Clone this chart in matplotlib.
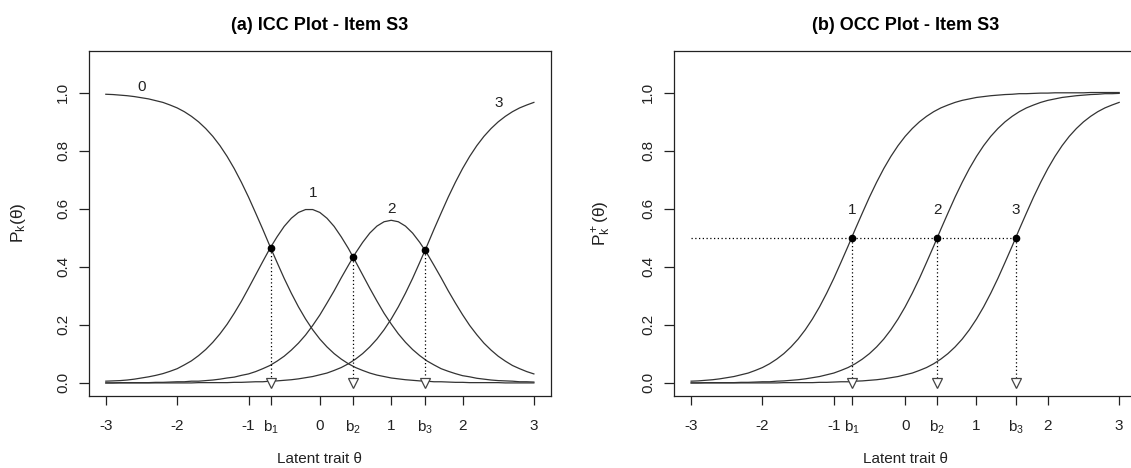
import matplotlib
matplotlib.use("Agg")
import matplotlib.pyplot as plt
import numpy as np

plt.rcParams['font.family'] = ['Liberation Sans', 'DejaVu Sans']
plt.rcParams['mathtext.fontset'] = 'custom'
plt.rcParams['mathtext.rm'] = 'Liberation Sans'
plt.rcParams['mathtext.it'] = 'Liberation Sans'
plt.rcParams['mathtext.default'] = 'regular'

# theta grid and cumulative (OCC) probabilities
theta = [-3.0, -2.9, -2.8, -2.7, -2.6, -2.5, -2.4, -2.3, -2.2, -2.1,
         -2.0, -1.9, -1.8, -1.7, -1.6, -1.5, -1.4, -1.3, -1.2, -1.1,
         -1.0, -0.9, -0.8, -0.7, -0.6, -0.5, -0.4, -0.3, -0.2, -0.1,
         0.0, 0.1, 0.2, 0.3, 0.4, 0.5, 0.6, 0.7, 0.8, 0.9,
         1.0, 1.1, 1.2, 1.3, 1.4, 1.5, 1.6, 1.7, 1.8, 1.9,
         2.0, 2.1, 2.2, 2.3, 2.4, 2.5, 2.6, 2.7, 2.8, 2.9,
         3.0]
occ1 = [0.006, 0.007, 0.009, 0.011, 0.014, 0.018, 0.022, 0.028, 0.034, 0.043,
        0.053, 0.066, 0.082, 0.101, 0.124, 0.151, 0.183, 0.220, 0.262, 0.309,
        0.360, 0.415, 0.471, 0.529, 0.585, 0.640, 0.691, 0.738, 0.780, 0.817,
        0.849, 0.876, 0.899, 0.918, 0.934, 0.947, 0.957, 0.966, 0.973, 0.978,
        0.983, 0.986, 0.989, 0.991, 0.993, 0.994, 0.996, 0.996, 0.997, 0.998,
        0.998, 0.999, 0.999, 0.999, 0.999, 0.999, 1.000, 1.000, 1.000, 1.000,
        1.000]
occ2 = [0.000, 0.000, 0.001, 0.001, 0.001, 0.001, 0.001, 0.002, 0.002, 0.003,
        0.004, 0.004, 0.006, 0.007, 0.009, 0.011, 0.014, 0.018, 0.022, 0.028,
        0.034, 0.043, 0.053, 0.066, 0.082, 0.101, 0.124, 0.151, 0.183, 0.220,
        0.262, 0.309, 0.360, 0.415, 0.471, 0.529, 0.585, 0.640, 0.691, 0.738,
        0.780, 0.817, 0.849, 0.876, 0.899, 0.918, 0.934, 0.947, 0.957, 0.966,
        0.973, 0.978, 0.983, 0.986, 0.989, 0.991, 0.993, 0.994, 0.996, 0.996,
        0.997]
occ3 = [0.000, 0.000, 0.000, 0.000, 0.000, 0.000, 0.000, 0.000, 0.000, 0.000,
        0.000, 0.000, 0.000, 0.001, 0.001, 0.001, 0.001, 0.001, 0.002, 0.002,
        0.003, 0.004, 0.004, 0.006, 0.007, 0.009, 0.011, 0.014, 0.018, 0.022,
        0.028, 0.034, 0.043, 0.053, 0.066, 0.082, 0.101, 0.124, 0.151, 0.183,
        0.220, 0.262, 0.309, 0.360, 0.415, 0.471, 0.529, 0.585, 0.640, 0.691,
        0.738, 0.780, 0.817, 0.849, 0.876, 0.899, 0.918, 0.934, 0.947, 0.957,
        0.966]

# crossing points of adjacent category curves (panel a)
icc_bx = [-0.69, 0.47, 1.47]
icc_by = [0.466, 0.432, 0.457]
# thresholds (panel b)
occ_b = [-0.75, 0.45, 1.55]
occ_level = 0.5

icc_labels = ['0', '1', '2', '3']
icc_label_x = [-2.5, -0.1, 1.0, 2.5]
icc_label_y = [1.02, 0.655, 0.60, 0.965]
occ_labels = ['1', '2', '3']
occ_label_y = 0.595

int_ticks = [-3, -2, -1, 0, 1, 2, 3]
b_ticklabels = ['$b_1$', '$b_2$', '$b_3$']
y_ticks = [0.0, 0.2, 0.4, 0.6, 0.8, 1.0]

theta = np.array(theta)
occ1, occ2, occ3 = np.array(occ1), np.array(occ2), np.array(occ3)
icc = [1 - occ1, occ1 - occ2, occ2 - occ3, occ3]

line_col = '#333333'
txt_col = '#222222'
dot_style = dict(ls=(0, (1, 2)), color='black', lw=0.9)
tri_style = dict(marker='v', ms=7, mfc='white', mec='#444444', mew=0.9, ls='none', zorder=5)

fig = plt.figure(figsize=(11.31, 4.68), dpi=100)
W, H = 1131, 468
ax1 = fig.add_axes([88.7 / W, 1 - 395.7 / H, 462.3 / W, 345 / H])
ax2 = fig.add_axes([674 / W, 1 - 395.7 / H, 462.3 / W, 345 / H])


def style_axes(ax, bx, title, ylabel):
    ax.set_xlim(-3.24, 3.24)
    ax.set_ylim(-0.044, 1.144)
    ticks = int_ticks + list(bx)
    labels = [str(t) for t in int_ticks] + b_ticklabels
    ax.set_xticks(ticks)
    ax.set_xticklabels(labels)
    ax.set_yticks(y_ticks)
    ax.set_yticklabels(['%.1f' % v for v in y_ticks], rotation=90, va='center')
    ax.tick_params(axis='x', length=6.7, width=0.9, pad=10, labelsize=11, colors=txt_col)
    ax.tick_params(axis='y', length=7.5, width=0.9, pad=6, labelsize=11, colors=txt_col)
    for s in ax.spines.values():
        s.set_linewidth(0.9)
        s.set_color(txt_col)
    ax.set_title(title, fontsize=13, fontweight='bold', pad=15)
    ax.set_xlabel('Latent trait θ', fontsize=11, color=txt_col)
    ax.xaxis.set_label_coords(0.5, -0.163)
    ax.set_ylabel(ylabel, fontsize=12.5, color=txt_col)
    ax.yaxis.set_label_coords(-0.131, 0.5)


# (a) ICC plot
for p in icc:
    ax1.plot(theta, p, color=line_col, lw=0.9)
for i in range(len(icc_labels)):
    ax1.text(icc_label_x[i], icc_label_y[i], icc_labels[i], ha='center', va='center',
             fontsize=11, color=txt_col)
for bx, by in zip(icc_bx, icc_by):
    ax1.plot([bx, bx], [by, 0.0], **dot_style)
    ax1.plot(bx, 0.0, **tri_style)
ax1.plot(icc_bx, icc_by, 'o', color='black', ms=4.5, zorder=6)
style_axes(ax1, icc_bx, '(a) ICC Plot - Item S3', r'$P_k(θ)$')

# (b) OCC plot
for p in [occ1, occ2, occ3]:
    ax2.plot(theta, p, color=line_col, lw=0.9)
ax2.plot([theta[0], occ_b[-1]], [occ_level, occ_level], **dot_style)
for i, b in enumerate(occ_b):
    ax2.plot([b, b], [occ_level, 0.0], **dot_style)
    ax2.plot(b, 0.0, **tri_style)
    ax2.text(b, occ_label_y, occ_labels[i], ha='center', va='center',
             fontsize=11, color=txt_col)
ax2.plot(occ_b, [occ_level] * len(occ_b), 'o', color='black', ms=4.5, zorder=6)
style_axes(ax2, occ_b, '(b) OCC Plot - Item S3', r'$P_k^+(θ)$')

fig.savefig('out.png', dpi=100)
